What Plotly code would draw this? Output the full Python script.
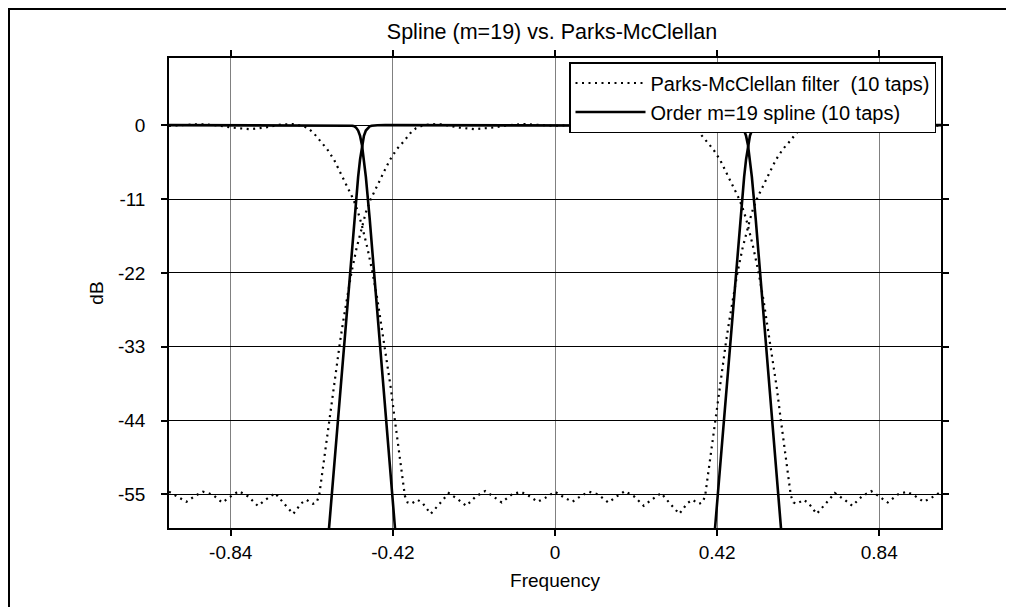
import plotly.graph_objects as go

# ---------------- data ----------------
# Parks-McClellan lowpass branch (frequency, dB)
pm_lp_freq = [-1.0, -0.975, -0.955, -0.932, -0.912, -0.888, -0.862, -0.84, -0.819, -0.795,
              -0.77, -0.75, -0.725, -0.70, -0.678, -0.657, -0.644, -0.627, -0.618, -0.611,
              -0.607, -0.601, -0.592, -0.583, -0.575, -0.566, -0.557, -0.549, -0.54, -0.5275,
              -0.514, -0.50, -0.49, -0.478, -0.466, -0.454, -0.441, -0.428, -0.41, -0.39,
              -0.375, -0.36, -0.345, -0.32, -0.29, -0.25, -0.21, -0.16, -0.12, -0.08, -0.04,
              0.0,
              0.04, 0.08, 0.12, 0.16, 0.21, 0.25, 0.29, 0.32, 0.345, 0.36,
              0.375, 0.39, 0.41, 0.428, 0.441, 0.454, 0.466, 0.478, 0.49, 0.50,
              0.514, 0.5275, 0.54, 0.549, 0.557, 0.566, 0.575, 0.583, 0.592, 0.601,
              0.607, 0.611, 0.618, 0.627, 0.644, 0.657, 0.678, 0.70, 0.725, 0.75,
              0.77, 0.795, 0.819, 0.84, 0.862, 0.888, 0.912, 0.932, 0.955, 0.975, 1.0]
pm_lp_db = [-54.6, -55.5, -56.1, -55.2, -54.6, -55.0, -56.2, -55.3, -54.5, -55.3,
            -56.7, -55.8, -54.8, -56.5, -57.9, -56.3, -55.8, -56.4, -56.2, -55.2,
            -53.5, -50.5, -46.8, -43.0, -39.3, -35.6, -32.3, -29.3, -26.0, -22.0,
            -18.3, -15.0, -13.0, -11.1, -9.6, -8.2, -6.7, -5.2, -3.6, -2.3,
            -1.2, -0.45, -0.1, 0.15, 0.1, -0.35, -0.6, -0.35, 0.0, 0.15, 0.0,
            -0.1,
            0.0, 0.15, 0.0, -0.35, -0.6, -0.35, 0.1, 0.15, -0.1, -0.45,
            -1.2, -2.3, -3.6, -5.2, -6.7, -8.2, -9.6, -11.1, -13.0, -15.0,
            -18.3, -22.0, -26.0, -29.3, -32.3, -35.6, -39.3, -43.0, -46.8, -50.5,
            -53.5, -55.2, -56.2, -56.4, -55.8, -56.3, -57.9, -56.5, -54.8, -55.8,
            -56.7, -55.3, -54.5, -55.3, -56.2, -55.0, -54.6, -55.2, -56.1, -55.5, -54.6]

# Parks-McClellan highpass branch (frequency, dB)
pm_hp_freq = [-1.0, -0.96, -0.92, -0.88, -0.84, -0.79, -0.75, -0.71, -0.68, -0.655,
              -0.64, -0.625, -0.61, -0.59, -0.572, -0.559, -0.546, -0.534, -0.522, -0.51,
              -0.50, -0.486, -0.4725, -0.46, -0.451, -0.443, -0.434, -0.425, -0.417, -0.408,
              -0.399, -0.393, -0.389, -0.382, -0.373, -0.356, -0.343, -0.322, -0.30, -0.275,
              -0.25, -0.23, -0.205, -0.181, -0.16, -0.138, -0.112, -0.088, -0.068, -0.045, -0.025,
              0.0,
              0.025, 0.045, 0.068, 0.088, 0.112, 0.138, 0.16, 0.181, 0.205, 0.23,
              0.25, 0.275, 0.30, 0.322, 0.343, 0.356, 0.373, 0.382, 0.389, 0.393,
              0.399, 0.408, 0.417, 0.425, 0.434, 0.443, 0.451, 0.46, 0.4725, 0.486,
              0.50, 0.51, 0.522, 0.534, 0.546, 0.559, 0.572, 0.59, 0.61, 0.625,
              0.64, 0.655, 0.68, 0.71, 0.75, 0.79, 0.84, 0.88, 0.92, 0.96, 1.0]
pm_hp_db = [-0.1, 0.0, 0.15, 0.0, -0.35, -0.6, -0.35, 0.1, 0.15, -0.1,
            -0.45, -1.2, -2.3, -3.6, -5.2, -6.7, -8.2, -9.6, -11.1, -13.0,
            -15.0, -18.3, -22.0, -26.0, -29.3, -32.3, -35.6, -39.3, -43.0, -46.8,
            -50.5, -53.5, -55.2, -56.2, -56.4, -55.8, -56.3, -57.9, -56.5, -54.8,
            -55.8, -56.7, -55.3, -54.5, -55.3, -56.2, -55.0, -54.6, -55.2, -56.1, -55.5,
            -54.6,
            -55.5, -56.1, -55.2, -54.6, -55.0, -56.2, -55.3, -54.5, -55.3, -56.7,
            -55.8, -54.8, -56.5, -57.9, -56.3, -55.8, -56.4, -56.2, -55.2, -53.5,
            -50.5, -46.8, -43.0, -39.3, -35.6, -32.3, -29.3, -26.0, -22.0, -18.3,
            -15.0, -13.0, -11.1, -9.6, -8.2, -6.7, -5.2, -3.6, -2.3, -1.2,
            -0.45, -0.1, 0.15, 0.1, -0.35, -0.6, -0.35, 0.0, 0.15, 0.0, -0.1]

# Order m=19 spline, lowpass branch
sp_lp_freq = [-0.59, -0.58, -0.57, -0.56, -0.55, -0.54, -0.53, -0.52, -0.51, -0.505,
              -0.50, -0.495, -0.49, -0.485, -0.48, -0.475, -0.47, -0.46, -0.44,
              0.0,
              0.44, 0.46, 0.47, 0.475, 0.48, 0.485, 0.49, 0.495, 0.50,
              0.505, 0.51, 0.52, 0.53, 0.54, 0.55, 0.56, 0.57, 0.58, 0.59]
sp_lp_db = [-63.2, -56.1, -49.0, -41.9, -34.9, -27.8, -20.9, -14.0, -7.7, -5.1,
            -3.0, -1.6, -0.8, -0.4, -0.17, -0.08, -0.04, -0.01, 0.0,
            0.0,
            0.0, -0.01, -0.04, -0.08, -0.17, -0.4, -0.8, -1.6, -3.0,
            -5.1, -7.7, -14.0, -20.9, -27.8, -34.9, -41.9, -49.0, -56.1, -63.2]

# Order m=19 spline, highpass branches (negative and positive side)
sp_hp_freq_neg = [-1.0, -0.56, -0.54, -0.53, -0.525, -0.52, -0.515, -0.51, -0.505, -0.50,
                  -0.495, -0.49, -0.48, -0.47, -0.46, -0.45, -0.44, -0.43, -0.42, -0.41]
sp_hp_db_neg = [0.0, 0.0, -0.01, -0.04, -0.08, -0.17, -0.4, -0.8, -1.6, -3.0,
                -5.1, -7.7, -14.0, -20.9, -27.8, -34.9, -41.9, -49.0, -56.1, -63.2]
sp_hp_freq_pos = [0.41, 0.42, 0.43, 0.44, 0.45, 0.46, 0.47, 0.48, 0.49, 0.495,
                  0.50, 0.505, 0.51, 0.515, 0.52, 0.525, 0.53, 0.54, 0.56, 1.0]
sp_hp_db_pos = [-63.2, -56.1, -49.0, -41.9, -34.9, -27.8, -20.9, -14.0, -7.7, -5.1,
                -3.0, -1.6, -0.8, -0.4, -0.17, -0.08, -0.04, -0.01, 0.0, 0.0]

x_ticks = [-0.84, -0.42, 0, 0.42, 0.84]
x_tick_labels = ["-0.84", "-0.42", "0", "0.42", "0.84"]
y_ticks = [0, -11, -22, -33, -44, -55]
y_tick_labels = ["0", "-11", "-22", "-33", "-44", "-55"]

title_text = "Spline (m=19) vs. Parks-McClellan"
pm_name = "Parks-McClellan filter  (10 taps)"
sp_name = "Order m=19 spline (10 taps)"

FONT = "Liberation Sans, Arial, Helvetica, sans-serif"

fig = go.Figure()

pm_x = pm_lp_freq + [None] + pm_hp_freq
pm_y = pm_lp_db + [None] + pm_hp_db
sp_x = sp_hp_freq_neg + [None] + sp_lp_freq + [None] + sp_hp_freq_pos
sp_y = sp_hp_db_neg + [None] + sp_lp_db + [None] + sp_hp_db_pos

fig.add_trace(go.Scatter(x=pm_x, y=pm_y, mode="lines", name=pm_name,
                         line=dict(color="black", width=2.2, dash="2px,4.5px"),
                         connectgaps=False))
fig.add_trace(go.Scatter(x=sp_x, y=sp_y, mode="lines", name=sp_name,
                         line=dict(color="black", width=2.6),
                         connectgaps=False))

# the page adds an ~8px body margin, so figure coords = page coords - 8
OFF = 8
L, T = 169 - OFF, 58 - OFF
R, B = 1014 - (941 - OFF), 607 - (528 - OFF)
PW, PH = 1014 - L - R, 607 - T - B

fig.update_layout(
    template="none",
    width=1014, height=607,
    margin=dict(l=L, r=R, t=T, b=B, autoexpand=False),
    paper_bgcolor="white", plot_bgcolor="white",
    font=dict(family=FONT, size=19, color="black"),
    title=dict(text=title_text, x=(552 - OFF - L) / PW, xanchor="center", xref="paper",
               y=1 - (31 - OFF) / 607, yref="container", yanchor="middle",
               font=dict(family=FONT, size=21.5, color="black")),
    showlegend=True,
    legend=dict(x=(936 - OFF - L) / PW, y=1 - (62 - OFF - T) / PH,
                xanchor="right", yanchor="top",
                bgcolor="white", bordercolor="black", borderwidth=1.5,
                font=dict(family=FONT, size=20, color="black"),
                itemwidth=70, tracegroupgap=0),
    shapes=[dict(type="rect", xref="paper", yref="paper",
                 x0=(1 - L) / PW, x1=(1011 - OFF - L) / PW,
                 y0=-(620 - T - PH) / PH, y1=1 + (T - 1) / PH,
                 line=dict(color="black", width=2), layer="below")],
)

fig.update_xaxes(range=[-1, 1], tickvals=x_ticks, ticktext=x_tick_labels,
                 automargin=False,
                 showgrid=True, gridcolor="#808080", gridwidth=1,
                 zeroline=False, showline=True, linecolor="black", linewidth=1.5,
                 mirror="ticks", ticks="outside", ticklen=6, tickcolor="black",
                 tickwidth=1.5, ticklabelstandoff=0,
                 tickfont=dict(family=FONT, size=19),
                 title=dict(text="Frequency", font=dict(family=FONT, size=19), standoff=12))
fig.update_yaxes(range=[-60, 10], tickvals=y_ticks, ticktext=y_tick_labels,
                 automargin=False,
                 showgrid=True, gridcolor="black", gridwidth=1,
                 zeroline=False, showline=True, linecolor="black", linewidth=1.5,
                 mirror="ticks", ticks="outside", ticklen=6, tickcolor="black",
                 tickwidth=1.5, ticklabelstandoff=12,
                 tickfont=dict(family=FONT, size=19),
                 title=dict(text="dB", font=dict(family=FONT, size=19), standoff=9))

fig.write_html("out.html")
